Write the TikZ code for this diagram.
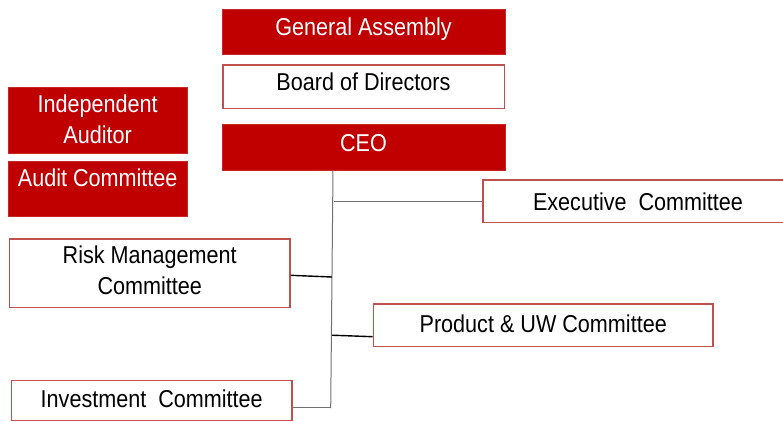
\documentclass[tikz,border=0pt]{standalone}
\usepackage{fontspec}
\setmainfont{Liberation Sans}[FakeStretch=0.885]
\usetikzlibrary{calc}
\definecolor{dred}{HTML}{C00000}
\definecolor{bred}{HTML}{C0504D}
\definecolor{lgray}{HTML}{707070}
\newcommand\twolines[2]{\begin{tabular}{@{}c@{}}#1\\#2\end{tabular}}
\begin{document}
\begin{tikzpicture}[x=1pt,y=-1pt,
  lbl/.style={inner sep=0pt, font=\fontsize{24.4}{31}\selectfont},
  filled/.style={lbl, fill=dred, draw=dred!85!white, line width=0.8pt, text=white},
  outlined/.style={lbl, fill=white, draw=bred, line width=1.5pt, text=black},
  raised/.style={text height=18pt, text depth=10pt},
  mid/.style={text height=18pt, text depth=0pt},
  grayline/.style={draw=lgray, line width=1pt},
  blackline/.style={draw=black, line width=1.4pt}]
\useasboundingbox (0,0) rectangle (783,421);
\clip (0,0) rectangle (783,421);
% top column
\node[filled, raised, minimum width=283pt, minimum height=45.3pt] (ga) at (363.5,31.7) {General Assembly};
\node[outlined, raised, minimum width=281.5pt, minimum height=43.2pt] (bod) at (363.5,86.7) {Board of Directors};
\node[filled, raised, minimum width=283pt, minimum height=46pt] (ceo) at (363.5,147.3) {CEO};
% left column
\node[filled, text height=40pt, text depth=23.8pt, minimum width=179.3pt, minimum height=66pt] (ia) at (97.7,120.3) {\twolines{Independent}{Auditor}};
\node[filled, text height=18pt, text depth=22.6pt, minimum width=179.3pt, minimum height=55.4pt] (ac) at (97.7,189) {Audit Committee};
% committees
\node[outlined, mid, minimum width=310pt, minimum height=42.5pt] (exec) at (638,201.3) {Executive\ \ Committee};
\node[outlined, text height=37pt, text depth=26.2pt, minimum width=280.5pt, minimum height=68.5pt] (risk) at (149.7,273.3) {\twolines{Risk Management}{Committee}};
\node[outlined, text height=18pt, text depth=3pt, minimum width=339.5pt, minimum height=42.2pt] (prod) at (543.2,325.2) {Product \& UW Committee};
\node[outlined, text height=18pt, text depth=5pt, minimum width=280.5pt, minimum height=40pt] (inv) at (151.7,400.7) {Investment\ \ Committee};
% connectors
\coordinate (ttop) at (333,170.3);
\coordinate (tbot) at (330.7,408);
\coordinate (texec) at (334,201.3);
\coordinate (trisk) at (332,277);
\coordinate (tprod) at (332,335.2);
\coordinate (tinv) at (330.7,407.7);
\draw[grayline] (ttop) -- (tbot);
\draw[grayline] (texec) -- (exec.west);
\draw[blackline] ($(risk.east)+(0,2)$) -- (trisk);
\draw[blackline] (tprod) -- ($(prod.west)+(0,11.5)$);
\draw[grayline] (tinv) -- (inv.east |- tinv);
\end{tikzpicture}
\end{document}
